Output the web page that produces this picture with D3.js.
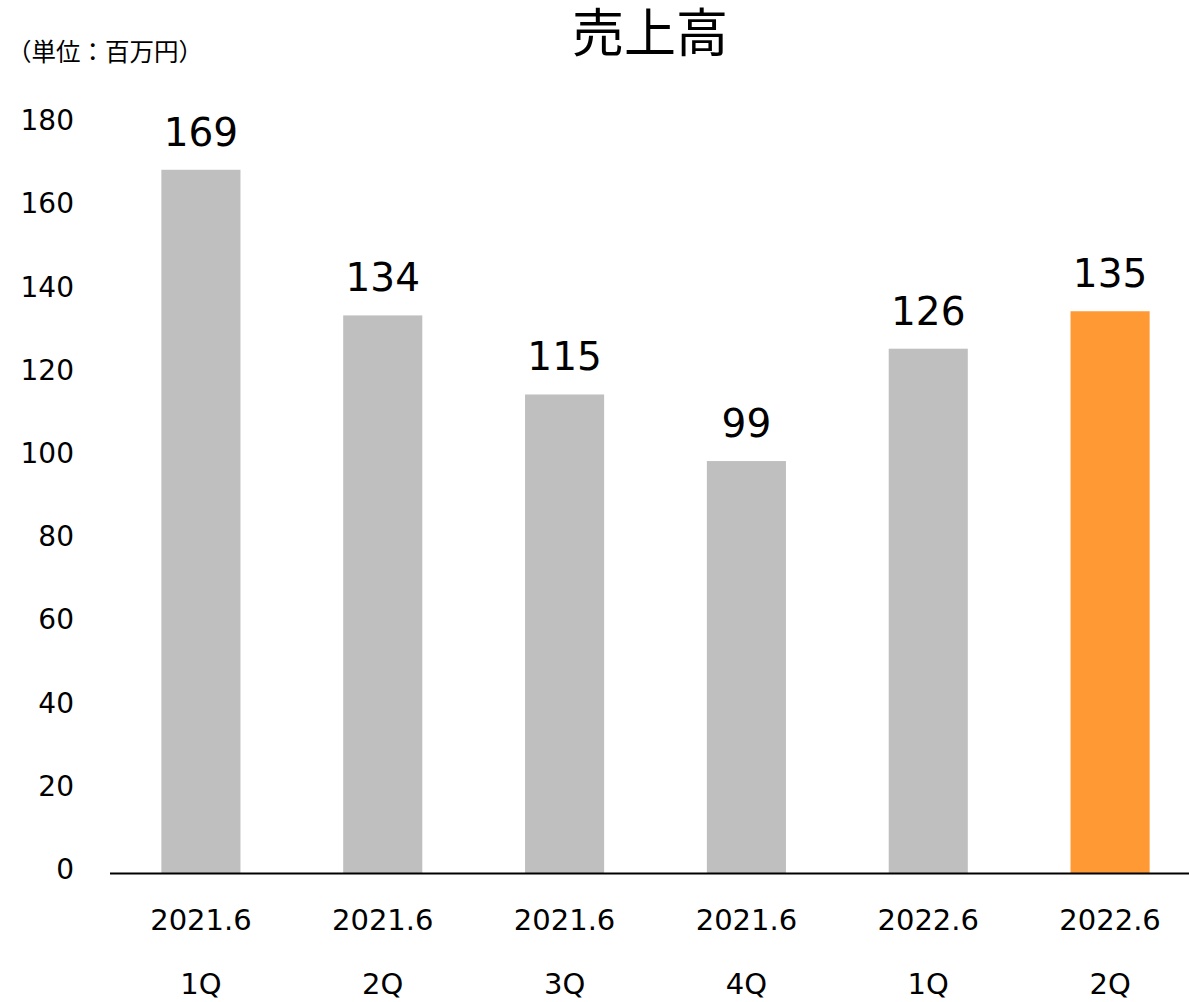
<!DOCTYPE html>
<html>
  <head>
    <meta charset="utf-8">
    <title>売上高</title>
    <script src="https://d3js.org/d3.v7.min.js"></script>
    <style>
      body { margin: 0; background: #fff; }
      text { font-family: "DejaVu Sans", "Noto Sans CJK JP", sans-serif; fill: #000; }
      .jp { font-family: "Noto Sans CJK JP", sans-serif; }
    </style>
  </head>
  <body>
    <svg width="1189" height="1002"></svg>
    <script>
      const periods = ["2021.6", "2021.6", "2021.6", "2021.6", "2022.6", "2022.6"];
      const quarters = ["1Q", "2Q", "3Q", "4Q", "1Q", "2Q"];
      const sales = [169, 134, 115, 99, 126, 135];
      const yTicks = [0, 20, 40, 60, 80, 100, 120, 140, 160, 180];
      const highlight = 5;

      const svg = d3.select("svg");
      const width = 1189;

      const x = d3.scaleBand()
        .domain(d3.range(sales.length))
        .range([110, 1201])
        .paddingInner(0.565)
        .paddingOuter(0.2825);

      const y = d3.scaleLinear()
        .domain([0, 180])
        .range([873, 124]);

      // title + unit
      svg.append("text")
        .attr("class", "jp")
        .attr("x", 650).attr("y", 52)
        .attr("text-anchor", "middle")
        .style("font-size", "52px")
        .text("売上高");

      svg.append("text")
        .attr("class", "jp")
        .attr("x", 7).attr("y", 61)
        .style("font-size", "24.5px")
        .text("（単位：百万円）");

      // y axis labels (no line, no ticks)
      svg.append("g").selectAll("text")
        .data(yTicks)
        .join("text")
          .attr("x", 74)
          .attr("y", d => y(d) - 4)
          .attr("dy", "0.36em")
          .attr("text-anchor", "end")
          .style("font-size", "28px")
          .text(d => d);

      // bars
      svg.append("g").selectAll("rect")
        .data(sales)
        .join("rect")
          .attr("x", (d, i) => x(i))
          .attr("y", d => y(d))
          .attr("width", x.bandwidth())
          .attr("height", d => y(0) - y(d))
          .attr("fill", (d, i) => i === highlight ? "#FF9933" : "#BFBFBF");

      // value labels
      svg.append("g").selectAll("text")
        .data(sales)
        .join("text")
          .attr("x", (d, i) => x(i) + x.bandwidth() / 2)
          .attr("y", d => y(d) - 24)
          .attr("text-anchor", "middle")
          .style("font-size", "39px")
          .text(d => d);

      // baseline
      svg.append("line")
        .attr("x1", 110).attr("x2", width)
        .attr("y1", y(0) + 0.5).attr("y2", y(0) + 0.5)
        .attr("stroke", "#000")
        .attr("stroke-width", 2);

      // category labels, two lines
      const cat = svg.append("g").selectAll("g")
        .data(sales)
        .join("g")
          .attr("transform", (d, i) => `translate(${x(i) + x.bandwidth() / 2},0)`);
      cat.append("text")
        .attr("y", 930)
        .attr("text-anchor", "middle")
        .style("font-size", "29px")
        .text((d, i) => periods[i]);
      cat.append("text")
        .attr("y", 994)
        .attr("text-anchor", "middle")
        .style("font-size", "29px")
        .text((d, i) => quarters[i]);
    </script>
  </body>
</html>
